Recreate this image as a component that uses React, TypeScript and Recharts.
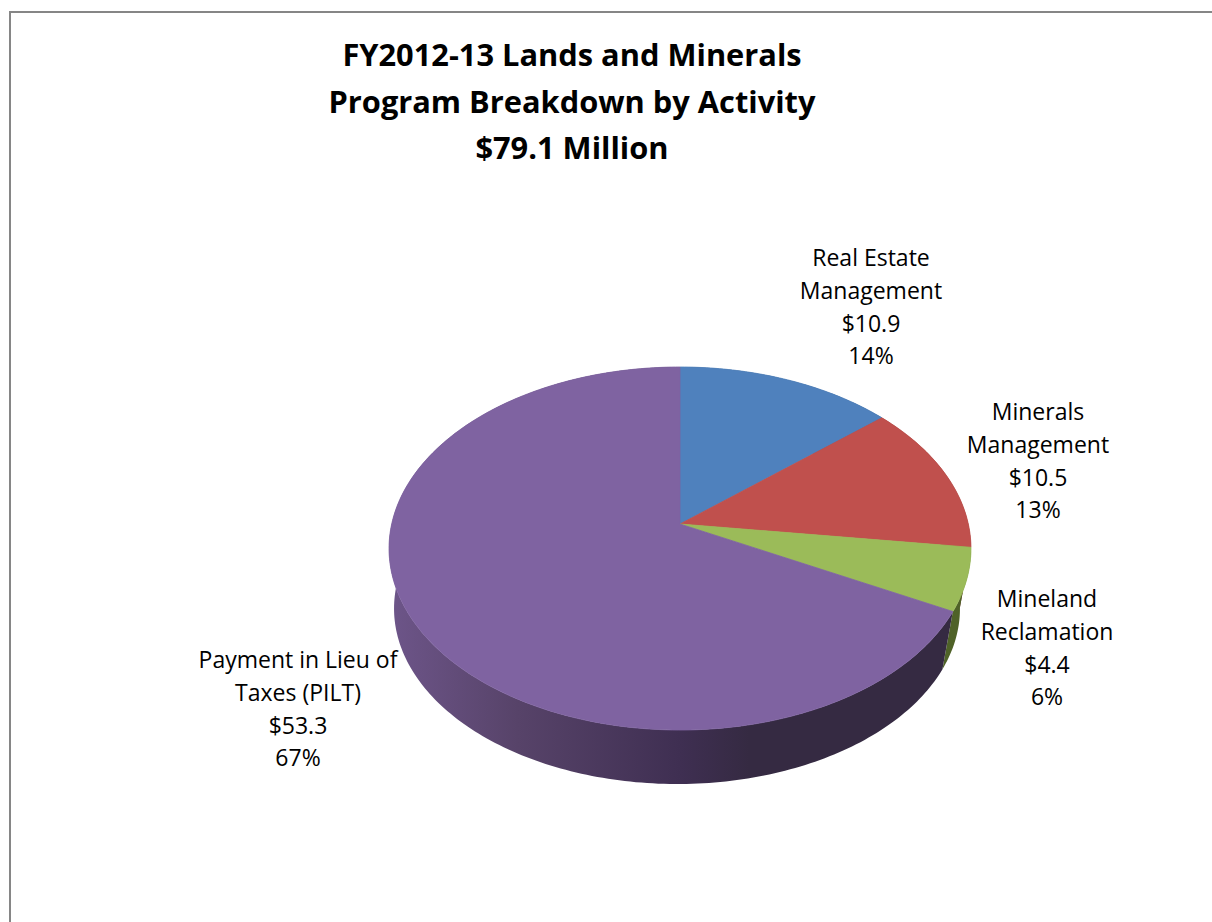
import React from "react";
import { PieChart, Pie, Cell } from "recharts";

const categories = ["Real Estate Management", "Minerals Management", "Mineland Reclamation", "Payment in Lieu of Taxes (PILT)"];
const amounts = [10.9, 10.5, 4.4, 53.3];
const percents = ["14%", "13%", "6%", "67%"];
const categoryLines = [
  ["Real Estate", "Management"],
  ["Minerals", "Management"],
  ["Mineland", "Reclamation"],
  ["Payment in Lieu of", "Taxes (PILT)"],
];
const titleLines = ["FY2012-13 Lands and Minerals", "Program Breakdown by Activity", "$79.1 Million"];

const topColors = ["#4f81bd", "#c0504d", "#9bbb59", "#7f63a1"];
const wallColors = ["#2f4d71", "#73302e", "#4f6228", "url(#pilt-wall)"];

// first baseline and centre of each label block, placed by hand like in the original
const labelAnchors = [
  { x: 871, y: 266 },
  { x: 1038, y: 420 },
  { x: 1047, y: 607 },
  { x: 298, y: 668 },
];

const tableData = categories.map((name, i) => ({ name, value: amounts[i] }));

const WIDTH = 1212;
const HEIGHT = 922;
const CX = 680;
const CY = 524;
const FONT = "'Open Sans', Lato, sans-serif";

// perspective tilt: turns a point on the flat pie into a point on the screen
const PERSP = 0.135;
const SCALE_X = 288.3;
const SCALE_Y = 178.2;

const projectTop = (deg: number) => {
  const a = (deg * Math.PI) / 180;
  const x = Math.cos(a);
  const y = -Math.sin(a);
  const d = 1 - PERSP * y;
  return { x: CX + (SCALE_X * x) / d, y: CY + (SCALE_Y * y) / d };
};

// bottom rim is a slightly smaller ellipse further down
const projectBottom = (deg: number) => {
  const p = projectTop(deg);
  return { x: 677 + (283 / 291) * (p.x - CX), y: 608 + (176 / 182) * (p.y - 548) };
};

const arcPoints = (start: number, end: number, fn: (d: number) => { x: number; y: number }) => {
  const steps = Math.max(2, Math.ceil(Math.abs(end - start)));
  const pts: string[] = [];
  for (let i = 0; i <= steps; i++) {
    const p = fn(start + ((end - start) * i) / steps);
    pts.push(`${p.x.toFixed(2)} ${p.y.toFixed(2)}`);
  }
  return pts;
};

const TopSlice = (props: any) => {
  const pts = arcPoints(props.startAngle, props.endAngle, projectTop);
  const d = `M${CX} ${CY} L${pts.join(" L")} Z`;
  return <path d={d} fill={props.fill} stroke={props.fill} strokeWidth={0.8} />;
};

const WallSlice = (props: any) => {
  const top = arcPoints(props.startAngle, props.endAngle, projectTop);
  const bottom = arcPoints(props.endAngle, props.startAngle, projectBottom);
  return <path d={`M${top.join(" L")} L${bottom.join(" L")} Z`} fill={props.fill} />;
};

const SliceLabel = (props: any) => {
  const { index } = props;
  const lines = [...categoryLines[index], `$${amounts[index].toFixed(1)}`, percents[index]];
  const anchor = labelAnchors[index];
  const lineHeight = 32.8;
  return (
    <text x={anchor.x} y={anchor.y} textAnchor="middle" fontFamily={FONT} fontSize={23} fill="#000">
      {lines.map((line, i) => (
        <tspan key={i} x={anchor.x} y={anchor.y + i * lineHeight}>
          {line}
        </tspan>
      ))}
    </text>
  );
};

export default function App() {
  return (
    <div style={{ position: "absolute", left: 0, top: 0, width: WIDTH, height: HEIGHT, overflow: "hidden", background: "#fff" }}>
      <div style={{ position: "absolute", left: 9, top: 11, width: 1203, height: 2, background: "#868686" }} />
      <div style={{ position: "absolute", left: 9, top: 11, width: 2, height: 911, background: "#868686" }} />
      <PieChart width={WIDTH} height={HEIGHT} margin={{ top: 0, right: 0, bottom: 0, left: 0 }}>
        <defs>
          <linearGradient id="pilt-wall" gradientUnits="userSpaceOnUse" x1={390} y1={0} x2={970} y2={0}>
            <stop offset="0" stopColor="#6d5589" />
            <stop offset="0.22" stopColor="#574369" />
            <stop offset="0.5" stopColor="#3f2f52" />
            <stop offset="0.62" stopColor="#352a42" />
            <stop offset="1" stopColor="#352a42" />
          </linearGradient>
        </defs>
        <Pie
          data={tableData}
          dataKey="value"
          cx={CX}
          cy={CY}
          outerRadius={288}
          startAngle={90}
          endAngle={-270}
          stroke="none"
          shape={WallSlice}
          isAnimationActive={false}
          legendType="none"
        >
          {tableData.map((_, i) => (
            <Cell key={i} fill={wallColors[i]} />
          ))}
        </Pie>
        <Pie
          data={tableData}
          dataKey="value"
          cx={CX}
          cy={CY}
          outerRadius={288}
          startAngle={90}
          endAngle={-270}
          stroke="none"
          shape={TopSlice}
          label={SliceLabel}
          labelLine={false}
          isAnimationActive={false}
        >
          {tableData.map((_, i) => (
            <Cell key={i} fill={topColors[i]} />
          ))}
        </Pie>
        {titleLines.map((line, i) => (
          <text key={i} x={572} y={66 + i * 46.5} textAnchor="middle" fontFamily={FONT} fontSize={30.8} fontWeight={700} fill="#000">
            {line}
          </text>
        ))}
      </PieChart>
    </div>
  );
}
